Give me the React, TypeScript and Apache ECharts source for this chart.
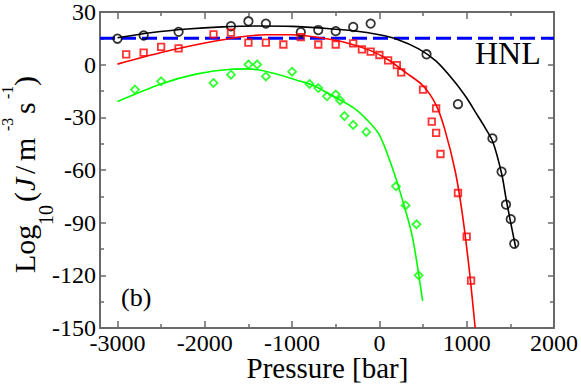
import React, { useEffect, useRef } from "react";
import * as echarts from "echarts";

const FONT = "Liberation Serif";

// axis ranges and ticks
const xRange = [-3200, 2000];
const yRange = [-150, 30];
const yInterval = 30;
const xMajorTicks = [-3000, -2000, -1000, 0, 1000, 2000];
const xMinorTicks = [-2500, -1500, -500, 500, 1500];
const hnlLevel = 15;

// measured points
const blackPoints: [number, number][] = [
  [-3000, 14.8], [-2700, 16.6], [-2300, 18.7], [-1700, 21.9], [-1500, 24.7], [-1300, 23.4],
  [-900, 18.5], [-700, 19.7], [-500, 19.1], [-300, 21.5], [-100, 23.4], [540, 5.9],
  [900, -22.5], [1295, -42], [1400, -61], [1450, -79.7], [1505, -88], [1545, -102],
];
const redPoints: [number, number][] = [
  [-2900, 5.9], [-2700, 6.9], [-2500, 10.1], [-2300, 9.3], [-1900, 17.2], [-1700, 18.2],
  [-1500, 12.5], [-1300, 12.5], [-1100, 11.5], [-900, 15.7], [-700, 11.5], [-500, 11.5],
  [-300, 12.1], [-200, 8.7], [-100, 7.4], [0, 5.5], [100, 2.5], [200, -0.3], [250, -4.4],
  [500, -14.2], [650, -24.9], [600, -32.5], [650, -38.8], [700, -50.9], [900, -73.1],
  [1000, -98], [1050, -123],
];
const greenPoints: [number, number][] = [
  [-2800, -14.2], [-2500, -9.5], [-1900, -10.4], [-1700, -5.7], [-1500, 0.1], [-1400, 0.1],
  [-1300, -6.7], [-1000, -4.0], [-800, -11], [-700, -13.3], [-600, -18], [-500, -17],
  [-450, -20.4], [-400, -29.3], [-300, -34.3], [-150, -38.3], [190, -69.3], [300, -80.2],
  [425, -90.9], [450, -120],
];

// fitted curves
const blackCurve: [number, number][] = [
  [-3000, 15.3], [-2600, 18.3], [-2200, 20.3], [-1800, 21.5], [-1400, 22], [-1000, 21.8],
  [-600, 20.6], [-300, 19.3], [0, 17], [200, 14.5], [450, 9], [650, 2], [850, -9],
  [1000, -19], [1100, -27], [1200, -35], [1300, -44], [1400, -62], [1450, -76],
  [1500, -89], [1561, -104],
];
const redCurve: [number, number][] = [
  [-3000, 0.3], [-2500, 6.9], [-2000, 12.3], [-1600, 15.8], [-1300, 17], [-1000, 17],
  [-700, 15.5], [-400, 12.8], [-100, 8], [100, 2.8], [300, -4.4], [500, -12], [650, -23],
  [750, -37], [870, -61], [950, -85], [1030, -117], [1097, -150],
];
const greenCurve: [number, number][] = [
  [-3000, -21], [-2500, -11], [-2100, -5.4], [-1700, -2.6], [-1500, -2.4], [-1200, -5],
  [-900, -9.5], [-750, -12], [-600, -16], [-300, -24.5], [-150, -31], [0, -40],
  [150, -59], [270, -78], [380, -98.5], [495, -134.6],
];

const AXIS_COLOR = "#6a6a6a";
const fmt = (v: number) => String(v);

function xAxisCfg(position: "bottom" | "top", ticks: number[], len: number, showLine: boolean, showLabel: boolean) {
  return {
    type: "value",
    position,
    min: xRange[0],
    max: xRange[1],
    axisLine: { show: showLine, onZero: false, lineStyle: { color: AXIS_COLOR, width: 2 } },
    axisTick: { show: true, inside: true, length: len, customValues: ticks, lineStyle: { color: AXIS_COLOR, width: 1.5 } },
    axisLabel: {
      show: showLabel,
      customValues: ticks,
      formatter: fmt,
      margin: 3,
      color: "#000",
      fontSize: 24,
      fontFamily: FONT,
    },
    splitLine: { show: false },
  };
}

function yAxisCfg(position: "left" | "right", showLabel: boolean) {
  return {
    type: "value",
    position,
    min: yRange[0],
    max: yRange[1],
    interval: yInterval,
    axisLine: { show: true, onZero: false, lineStyle: { color: AXIS_COLOR, width: 2 } },
    axisTick: { show: true, inside: true, length: 6, lineStyle: { color: AXIS_COLOR, width: 1.5 } },
    minorTick: { show: true, splitNumber: 2, length: 4, lineStyle: { color: AXIS_COLOR, width: 1.5 } },
    axisLabel: { show: showLabel, formatter: fmt, margin: 4, color: "#000", fontSize: 24, fontFamily: FONT },
    splitLine: { show: false },
    minorSplitLine: { show: false },
  };
}

const yLabelParts = [
  { t: "Log", x: 0, base: 0, fs: 30, italic: false },
  { t: "10", x: 48, base: 18, fs: 20, italic: false },
  { t: "(", x: 71, base: 0, fs: 30, italic: false },
  { t: "J", x: 82, base: 0, fs: 30, italic: true },
  { t: "/", x: 99, base: 0, fs: 30, italic: false },
  { t: "m", x: 112, base: 0, fs: 30, italic: false },
  { t: "-3", x: 142, base: -22, fs: 16, italic: false },
  { t: "s", x: 159, base: 0, fs: 30, italic: false },
  { t: "-1", x: 174, base: -22, fs: 16, italic: false },
  { t: ")", x: 187, base: 0, fs: 30, italic: false },
];

export default function App() {
  const ref = useRef<HTMLDivElement>(null);
  useEffect(() => {
    const chart = echarts.init(ref.current!, null, { renderer: "svg" });
    const option: any = {
      animation: false,
      grid: { left: 100, right: 26, top: 9, bottom: 56 },
      xAxis: [
        xAxisCfg("bottom", xMajorTicks, 7, true, true),
        xAxisCfg("bottom", xMinorTicks, 4, false, false),
        xAxisCfg("top", xMajorTicks, 7, true, false),
        xAxisCfg("top", xMinorTicks, 4, false, false),
      ],
      yAxis: [yAxisCfg("left", true), yAxisCfg("right", false)],
      series: [
        {
          type: "line",
          data: [[xRange[0], hnlLevel], [xRange[1], hnlLevel]],
          symbol: "none",
          lineStyle: { color: "#0000ff", width: 3, type: [15, 6] },
          z: 1,
        },
        {
          type: "line",
          data: blackCurve,
          symbol: "none",
          smooth: 0.3,
          lineStyle: { color: "#000", width: 1.6 },
          z: 2,
        },
        {
          type: "line",
          data: redCurve,
          symbol: "none",
          smooth: 0.3,
          lineStyle: { color: "#ff0000", width: 1.6 },
          z: 2,
        },
        {
          type: "line",
          data: greenCurve,
          symbol: "none",
          smooth: 0.3,
          lineStyle: { color: "#00ff00", width: 1.6 },
          z: 2,
        },
        {
          type: "scatter",
          data: blackPoints,
          symbol: "circle",
          symbolSize: 8.5,
          itemStyle: { color: "transparent", borderColor: "#000", borderWidth: 1.8 },
          z: 3,
        },
        {
          type: "scatter",
          data: redPoints,
          symbol: "rect",
          symbolSize: 6.5,
          itemStyle: { color: "transparent", borderColor: "#ff0000", borderWidth: 1.8 },
          z: 3,
        },
        {
          type: "scatter",
          data: greenPoints,
          symbol: "diamond",
          symbolSize: 8,
          itemStyle: { color: "transparent", borderColor: "#00ff00", borderWidth: 1.8 },
          z: 3,
        },
      ],
      graphic: [
        {
          type: "text",
          x: 327.5,
          y: 368,
          style: { text: "Pressure [bar]", fontSize: 29, fontFamily: FONT, fill: "#000", textAlign: "center", textVerticalAlign: "middle" },
        },
        {
          type: "text",
          x: 475,
          y: 52.5,
          style: { text: "HNL", fontSize: 32, fontFamily: FONT, fill: "#000", textAlign: "left", textVerticalAlign: "middle" },
        },
        {
          type: "text",
          x: 121,
          y: 297.5,
          style: { text: "(b)", fontSize: 26, fontFamily: FONT, fill: "#000", textAlign: "left", textVerticalAlign: "middle" },
        },
        {
          type: "group",
          x: 35,
          y: 273,
          rotation: Math.PI / 2,
          children: yLabelParts.map((p) => ({
            type: "text",
            x: p.x,
            y: p.base - 0.3375 * p.fs,
            style: {
              text: p.t,
              fontSize: p.fs,
              fontFamily: FONT,
              fontStyle: p.italic ? "italic" : "normal",
              fill: "#000",
              textAlign: "left",
              textVerticalAlign: "middle",
            },
          })),
        },
      ],
    };
    chart.setOption(option);
    return () => chart.dispose();
  }, []);
  return (
    <div style={{ position: "fixed", left: 0, top: 0, width: 581, height: 384, background: "#fff" }}>
      <div ref={ref} style={{ width: 581, height: 384 }} />
    </div>
  );
}
